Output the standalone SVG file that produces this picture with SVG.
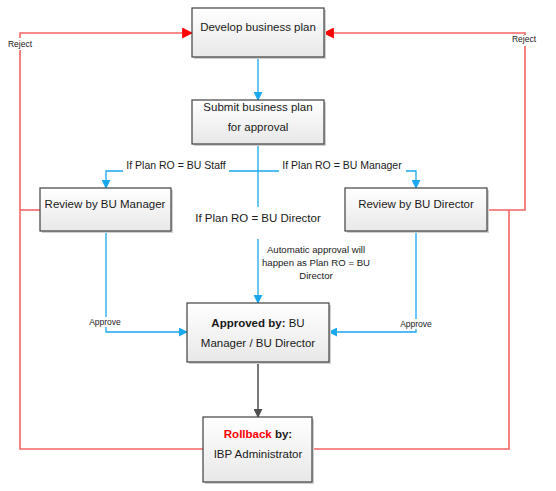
<svg xmlns="http://www.w3.org/2000/svg" width="556" height="491" viewBox="0 0 556 491">
<defs>
<linearGradient id="g" x1="0" y1="0" x2="0" y2="1">
<stop offset="0" stop-color="#ffffff"/>
<stop offset="1" stop-color="#e8e8e8"/>
</linearGradient>
<marker id="ab" viewBox="0 0 10 10" refX="9" refY="5" markerWidth="9" markerHeight="9" markerUnits="userSpaceOnUse" orient="auto"><path d="M0,0 L10,5 L0,10 z" fill="#1aa7ec"/></marker>
<marker id="ar" viewBox="0 0 10 10" refX="9" refY="5" markerWidth="11" markerHeight="11" markerUnits="userSpaceOnUse" orient="auto"><path d="M0,0 L10,5 L0,10 z" fill="#ff0000"/></marker>
<marker id="ag" viewBox="0 0 10 10" refX="9" refY="5" markerWidth="9" markerHeight="9" markerUnits="userSpaceOnUse" orient="auto"><path d="M0,0 L10,5 L0,10 z" fill="#4d4d4d"/></marker>
</defs>
<style>
.box{fill:url(#g);stroke:#404040;stroke-width:1.2}
.sh{fill:#d0d0d0}
.t{font-family:"Liberation Sans",Arial,sans-serif;font-size:11.5px;fill:#1a1a1a;text-anchor:middle}
.s{font-family:"Liberation Sans",Arial,sans-serif;font-size:9.6px;fill:#1a1a1a;text-anchor:middle}
.sm{font-family:"Liberation Sans",Arial,sans-serif;font-size:8.5px;fill:#1a1a1a;text-anchor:middle}
.b{fill:none;stroke:#1aa7ec;stroke-width:1.3}
.r{fill:none;stroke:#f46464;stroke-width:1.6}
.gr{fill:none;stroke:#595959;stroke-width:1.6}
.bg{fill:#ffffff}
</style>
<rect width="556" height="491" fill="#ffffff"/>
<g id="connectors">
<path class="b" d="M258,57 V100" marker-end="url(#ab)"/>
<path class="b" d="M258,144 V207"/>
<path class="b" d="M258,239 V303" marker-end="url(#ab)"/>
<path class="b" d="M258,171 H106 V188" marker-end="url(#ab)"/>
<path class="b" d="M258,171 H416 V188" marker-end="url(#ab)"/>
<path class="b" d="M106,231 V332 H187" marker-end="url(#ab)"/>
<path class="b" d="M416,231 V332 H329" marker-end="url(#ab)"/>
<path class="gr" d="M258,362 V417" marker-end="url(#ag)"/>
<path class="r" d="M203,449 H20 V33 H192" marker-end="url(#ar)"/>
<path class="r" d="M40,210 H20"/>
<path class="r" d="M312,449 H509 V210"/>
<path class="r" d="M487,210 H525 V33 H324" marker-end="url(#ar)"/>
<rect class="bg" x="123" y="161" width="106" height="12"/>
<rect class="bg" x="279" y="161" width="127" height="12"/>
<rect class="bg" x="5" y="38" width="30" height="12"/>
<rect class="bg" x="509" y="35" width="31" height="11"/>
<rect class="bg" x="85" y="317" width="40" height="10"/>
<rect class="bg" x="396" y="319" width="40" height="10"/>
<text class="sm" x="20" y="47">Reject</text>
<text class="sm" x="524" y="42">Reject</text>
<text class="t" x="176" y="169" style="font-size:10.5px">If Plan RO = BU Staff</text>
<text class="t" x="342" y="169" style="font-size:10.5px">If Plan RO = BU Manager</text>
<text class="t" x="258" y="222">If Plan RO = BU Director</text>
<text class="s" x="316" y="253">Automatic approval will</text>
<text class="s" x="316" y="266">happen as Plan RO = BU</text>
<text class="s" x="316" y="279">Director</text>
<text class="sm" x="105" y="325">Approve</text>
<text class="sm" x="416" y="327">Approve</text>
</g>
<g id="develop">
<rect class="sh" x="194" y="10" width="132" height="49"/>
<rect class="box" x="192" y="8" width="132" height="49"/>
<text class="t" x="258" y="31">Develop business plan</text>
</g>
<g id="submit">
<rect class="sh" x="194" y="102" width="132" height="44"/>
<rect class="box" x="192" y="100" width="132" height="44"/>
<text class="t" x="258" y="111">Submit business plan</text>
<text class="t" x="258" y="131">for approval</text>
</g>
<g id="review-manager">
<rect class="sh" x="42" y="190" width="131" height="43"/>
<rect class="box" x="40" y="188" width="131" height="43"/>
<text class="t" x="105" y="208">Review by BU Manager</text>
</g>
<g id="review-director">
<rect class="sh" x="347" y="190" width="142" height="43"/>
<rect class="box" x="345" y="188" width="142" height="43"/>
<text class="t" x="416" y="208">Review by BU Director</text>
</g>
<g id="approved">
<rect class="sh" x="189" y="305" width="142" height="59"/>
<rect class="box" x="187" y="303" width="142" height="59"/>
<text class="t" x="258" y="327"><tspan font-weight="bold">Approved by:</tspan>  BU</text>
<text class="t" x="258" y="347">Manager / BU Director</text>
</g>
<g id="rollback">
<rect class="sh" x="205" y="419" width="109" height="65"/>
<rect class="box" x="203" y="417" width="109" height="65"/>
<text class="t" x="258" y="438" font-weight="bold"><tspan fill="#ff0000">Rollback</tspan> by:</text>
<text class="t" x="258" y="458">IBP Administrator</text>
</g>
</svg>
